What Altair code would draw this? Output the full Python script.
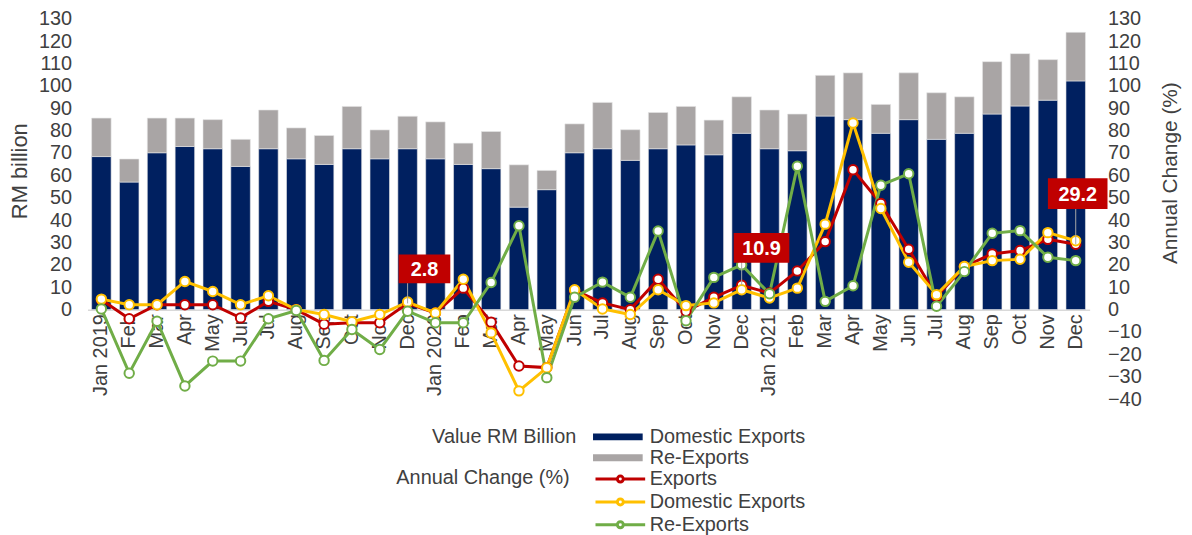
import json
import altair as alt
import pandas as pd

# ---------------- data ----------------
months = ["Jan 2019", "Feb", "Mar", "Apr", "May", "Jun", "Jul", "Aug", "Sep", "Oct", "Nov", "Dec",
          "Jan 2020", "Feb", "Mar", "Apr", "May", "Jun", "Jul", "Aug", "Sep", "Oct", "Nov", "Dec",
          "Jan 2021", "Feb", "Mar", "Apr", "May", "Jun", "Jul", "Aug", "Sep", "Oct", "Nov", "Dec"]

# Value RM billion
domestic_exports = [68.4, 57.0, 70.1, 72.9, 71.9, 64.0, 71.9, 67.4, 64.9, 71.9, 67.4, 71.9,
                    67.4, 64.9, 63.0, 45.8, 53.6, 70.1, 71.9, 66.7, 71.9, 73.6, 69.2, 78.8,
                    71.9, 71.0, 86.5, 84.9, 78.8, 84.9, 76.1, 78.8, 87.4, 91.0, 93.6, 102.2]
re_exports = [17.2, 10.3, 15.5, 12.7, 13.0, 12.1, 17.3, 13.8, 12.9, 18.9, 12.9, 14.5,
              16.5, 9.5, 16.6, 18.9, 8.6, 12.9, 20.7, 13.7, 16.2, 17.2, 15.5, 16.3,
              17.3, 16.4, 18.2, 20.9, 12.9, 20.9, 20.8, 16.3, 23.4, 23.4, 18.1, 21.7]

# Annual change (%)
chg_exports = [4.4, -4.1, 2.2, 2.2, 2.2, -3.7, 3.7, 0.0, -6.5, -5.9, -5.9, 2.8,
               -1.5, 9.6, -5.6, -25.2, -25.9, 8.6, 3.0, 0.0, 13.6, -0.7, 5.5, 10.9,
               7.4, 17.3, 30.4, 62.5, 47.4, 27.0, 5.9, 19.3, 24.9, 26.4, 31.4, 29.2]
chg_domestic = [4.7, 2.2, 2.2, 12.6, 8.1, 2.2, 6.2, 0.0, -2.2, -5.4, -2.2, 3.4,
                -1.5, 13.6, -10.4, -36.3, -26.0, 8.9, 0.3, -2.2, 8.9, 1.8, 3.0, 8.9,
                5.2, 9.6, 38.2, 83.4, 45.2, 21.2, 6.7, 19.3, 21.9, 22.5, 34.4, 30.8]
chg_re_exports = [0.3, -28.4, -5.2, -34.1, -23.0, -23.0, -4.1, -0.4, -22.7, -8.9, -17.8, -0.7,
                  -5.9, -5.9, 12.1, 37.5, -30.4, 5.5, 12.3, 5.5, 35.1, -5.0, 14.4, 20.0,
                  7.1, 64.1, 3.7, 10.7, 55.6, 60.7, 1.5, 17.0, 34.1, 35.3, 23.4, 21.9]

# annotations (Exports annual change)
ann_index = [11, 23, 35]
ann_value = [2.8, 10.9, 29.2]
ann_label_y = [18.2, 27.6, 51.8]

# ---------------- style ----------------
NAVY, GRAY = "#002060", "#A9A5A5"
RED, YELLOW, GREEN = "#C00000", "#FFC000", "#70AD47"
FONT = "Liberation Sans, Arial, sans-serif"
TXT = "#404040"

n = len(months)
bars_df = pd.DataFrame({
    "i": list(range(n)) * 2,
    "series": ["Domestic Exports"] * n + ["Re-Exports"] * n,
    "value": domestic_exports + re_exports,
    "ord": [0] * n + [1] * n,
})
lines_df = pd.DataFrame({
    "i": list(range(n)) * 3,
    "series": ["Exports"] * n + ["Domestic Exports"] * n + ["Re-Exports"] * n,
    "change": chg_exports + chg_domestic + chg_re_exports,
})

label_expr = json.dumps(months) + "[datum.value]"
X = alt.X("i:O", title=None,
          scale=alt.Scale(paddingInner=0.3, paddingOuter=0.15),
          axis=alt.Axis(labelExpr=label_expr, labelAngle=270, offset=-90, ticks=False,
                        domainColor="#D9D9D9", domainWidth=1.5, labelPadding=4,
                        labelOverlap=False, labelBound=False, labelFontSize=20))

right_axis = alt.Axis(orient="right", values=list(range(-40, 131, 10)), title="Annual Change (%)",
                      grid=False, ticks=False, domain=False, labelPadding=18,
                      titleAngle=270, titleX=81, titleY=155, titleAlign="center",
                      titleBaseline="middle", titleFontSize=21)
yscale_r = alt.Scale(domain=[-40, 130], nice=False, zero=False)


def yr(field):
    return alt.Y(field, scale=yscale_r, axis=right_axis)


bars = alt.Chart(bars_df).mark_bar(stroke="#E6E6E6", strokeWidth=0.6).encode(
    x=X,
    y=alt.Y("value:Q", stack="zero",
            scale=alt.Scale(domain=[-40, 130], nice=False, zero=False),
            axis=alt.Axis(values=list(range(0, 131, 10)), title="RM billion", grid=False,
                          ticks=False, domain=False, labelPadding=16, titleFontSize=22,
                          titleAngle=270, titleX=-68, titleY=153, titleAlign="center",
                          titleBaseline="middle")),
    fill=alt.Fill("series:N",
                  scale=alt.Scale(domain=["Domestic Exports", "Re-Exports"], range=[NAVY, GRAY]),
                  legend=alt.Legend(title="Value RM  Billion", orient="none", legendX=347, legendY=411,
                                    titleOrient="left", titleAnchor="start", titleBaseline="top",
                                    titlePadding=11,
                                    symbolType="M-1,-0.35H4V0.35H-1Z", symbolSize=400,
                                    symbolStrokeWidth=0, labelOffset=37, rowPadding=1, padding=0)),
    order=alt.Order("ord:Q", sort="ascending"),
)

stroke_enc = alt.Stroke("series:N",
                        scale=alt.Scale(domain=["Exports", "Domestic Exports", "Re-Exports"],
                                        range=[RED, YELLOW, GREEN]),
                        legend=alt.Legend(title="Annual Change (%)", orient="none", legendX=311, legendY=452,
                                          titleOrient="left", titleAnchor="start", titleBaseline="top",
                                          titlePadding=24,
                                          symbolType="M-1,0H1.2M1.8,0H4M1.2,0A0.3,0.3,0,1,1,1.8,0A0.3,0.3,0,1,1,1.2,0",
                                          symbolSize=400, symbolStrokeWidth=3, symbolFillColor="white",
                                          labelOffset=33, rowPadding=1, padding=0))

lines = alt.Chart(lines_df).mark_line(strokeWidth=3).encode(
    x=X, y=yr("change:Q"), stroke=stroke_enc, detail="series:N")
points = alt.Chart(lines_df).mark_point(filled=True, fill="white", size=90, strokeWidth=2, opacity=1).encode(
    x=X, y=yr("change:Q"), stroke=stroke_enc)

# annotation boxes: (box width, box height, x offset)
box_styles = [(52, 29, 17), (56, 30, 20), (60, 31, 2)]
ann_layers = []
for k in range(len(ann_index)):
    w, h, off = box_styles[k]
    df = pd.DataFrame({"i": [ann_index[k]], "value": [ann_value[k]],
                       "label_y": [ann_label_y[k]], "txt": [f"{ann_value[k]:.1f}"]})
    x0, x1 = (off - w / 2) / 10, (off + w / 2) / 10
    hy = h / 20
    path = f"M{x0:.2f},{-hy:.2f}H{x1:.2f}V{hy:.2f}H{x0:.2f}Z"
    rule = alt.Chart(df).mark_rule(color="#A6A6A6", strokeWidth=1).encode(
        x=X, y=yr("value:Q"), y2="label_y:Q")
    box = alt.Chart(df).mark_point(shape=path, size=400, filled=True, fill=RED,
                                   strokeWidth=0, opacity=1).encode(x=X, y=yr("label_y:Q"))
    txt = alt.Chart(df).mark_text(dx=off, dy=1, fontSize=20, fontWeight="bold", color="white",
                                  font=FONT, align="center", baseline="middle").encode(
        x=X, y=yr("label_y:Q"), text="txt:N")
    ann_layers += [rule, box, txt]

right_layer = alt.layer(lines, points, *ann_layers)

chart = alt.layer(bars, right_layer).resolve_scale(
    y="independent", fill="independent", stroke="independent"
).properties(
    width=1009, height=383,
    autosize=alt.AutoSizeParams(type="none"),
    padding={"left": 80, "top": 9, "right": 95, "bottom": 135},
).configure_view(stroke=None).configure_axis(
    labelFont=FONT, titleFont=FONT, labelFontSize=20, labelColor=TXT, titleColor=TXT,
    titleFontWeight="normal", grid=False,
).configure_legend(
    labelFont=FONT, titleFont=FONT, labelFontSize=20, titleFontSize=20, labelColor=TXT,
    titleColor=TXT, titleFontWeight="normal", titleLimit=400, labelLimit=400,
)

chart.save("out.html", embed_options={"renderer": "svg", "actions": False})
